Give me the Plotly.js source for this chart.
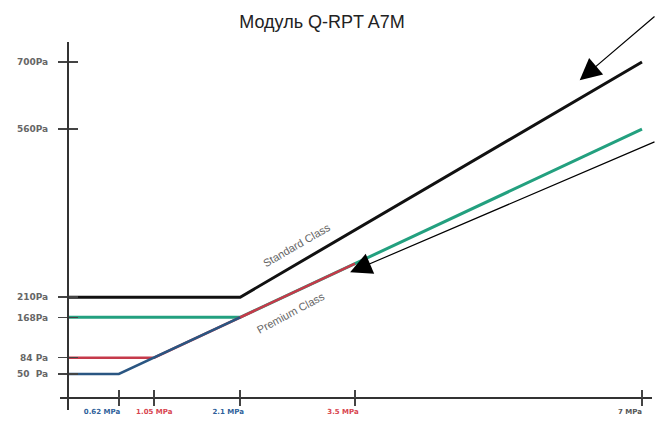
<!DOCTYPE html>
<html>
<head>
<meta charset="utf-8">
<script src="https://cdn.plot.ly/plotly-3.0.1.min.js"></script>
<style>html,body{margin:0;padding:0;background:#fff;}#chart{width:656px;height:429px;}</style>
</head>
<body>
<div id="chart"></div>
<script>
// Pressure (MPa) breakpoints and uncertainty (Pa) for each curve
const standardX = [0, 2.1, 7];
const standardY = [210, 210, 700];
const premiumX = [0, 2.1, 7];
const premiumY = [168, 168, 560];
const redX = [0, 1.05, 3.5];
const redY = [84, 84, 280];
const blueX = [0, 0.62, 2.1];
const blueY = [50, 50, 168];

const xTickVals = [0.62, 1.05, 2.1, 3.5, 7];
const xTickText = ['0.62 MPa', '1.05 MPa', '2.1 MPa', '3.5 MPa', '7 MPa'];
const xTickColors = ['#2f5f9a', '#d8454f', '#2f5f9a', '#d8454f', '#555'];
const yTickVals = [50, 84, 168, 210, 560, 700];
const yTickText = ['50  Pa', '84 Pa', '168Pa', '210Pa', '560Pa', '700Pa'];

const titleText = 'Модуль Q-RPT A7M';
const standardLabel = 'Standard Class';
const premiumLabel = 'Premium Class';

const xRange = [-0.0976, 7.122];
const yRange = [-25, 741.7];
const xPos = 0.0326, yPos = 0.0135;

const nb = n => '\u00a0'.repeat(n);
const xPadLead = [0, 10, 0, 0, 0];
const xPadTrail = [4, 0, 0, 0, 0];

const traces = [
  {x: premiumX, y: premiumY, mode: 'lines', line: {color: '#23a07f', width: 3}},
  {x: redX, y: redY, mode: 'lines', line: {color: '#c53a4a', width: 2.6}},
  {x: blueX, y: blueY, mode: 'lines', line: {color: '#2a5682', width: 2.6}},
  {x: standardX, y: standardY, mode: 'lines', line: {color: '#111', width: 3}},
  {x: [], y: [], xaxis: 'x2', yaxis: 'y2', mode: 'lines', hoverinfo: 'skip'}
];

const yTickFont = {family: 'DejaVu Sans', size: 9, color: '#666', weight: 'bold'};
const xTickFont = {family: 'DejaVu Sans', size: 7, color: '#555', weight: 'bold'};
const layout = {
  width: 656, height: 429,
  margin: {l: 60, r: 4, t: 42, b: 19},
  paper_bgcolor: '#fff', plot_bgcolor: '#fff',
  showlegend: false,
  hovermode: false,
  title: {text: titleText, font: {family: 'Liberation Sans', size: 18, color: '#222'},
          x: 0.4426, xref: 'paper', xanchor: 'center', y: 0.949, yref: 'container', yanchor: 'middle'},
  xaxis: {range: xRange, anchor: 'free', position: xPos, showgrid: false, zeroline: false,
          showline: true, linecolor: '#333', linewidth: 2,
          tickmode: 'array', tickvals: xTickVals, tickangle: 0,
          ticktext: xTickText.map((t, i) => nb(xPadLead[i]) + '<span style="color:' + xTickColors[i] + '">' + t + '</span>' + nb(xPadTrail[i])),
          ticks: 'outside', ticklen: 7, tickwidth: 1.5, tickcolor: '#444',
          ticklabelshift: -12, tickfont: xTickFont},
  yaxis: {range: yRange, anchor: 'free', position: yPos, showgrid: false, zeroline: false,
          showline: true, linecolor: '#333', linewidth: 2,
          tickmode: 'array', tickvals: yTickVals, ticktext: yTickText,
          ticks: 'outside', ticklen: 9, tickwidth: 1.5, tickcolor: '#444',
          ticklabelstandoff: 8, tickfont: yTickFont},
  xaxis2: {range: xRange, overlaying: 'x', anchor: 'free', position: xPos, side: 'bottom',
           showgrid: false, zeroline: false, showline: false, showticklabels: false,
           tickmode: 'array', tickvals: xTickVals, ticks: 'inside', ticklen: 8, tickwidth: 1.5, tickcolor: '#444'},
  yaxis2: {range: yRange, overlaying: 'y', anchor: 'free', position: yPos, side: 'left',
           showgrid: false, zeroline: false, showline: false, showticklabels: false,
           tickmode: 'array', tickvals: yTickVals, ticks: 'inside', ticklen: 9, tickwidth: 1.5, tickcolor: '#444'},
  annotations: [
    {x: 2.79, y: 318, xref: 'x', yref: 'y', text: standardLabel, showarrow: false, textangle: -30,
     font: {family: 'Liberation Sans', size: 11, color: '#666'}},
    {x: 2.71, y: 178, xref: 'x', yref: 'y', text: premiumLabel, showarrow: false, textangle: -28,
     font: {family: 'Liberation Sans', size: 11, color: '#666'}},
    {x: 6.24, y: 662, xref: 'x', yref: 'y', text: '', showarrow: true, arrowhead: 2, arrowsize: 3.6,
     arrowwidth: 1.2, arrowcolor: '#000', ax: 80, ay: -65, standoff: 0},
    {x: 3.44, y: 262, xref: 'x', yref: 'y', text: '', showarrow: true, arrowhead: 2, arrowsize: 3.6,
     arrowwidth: 1.2, arrowcolor: '#000', ax: 320, ay: -131, standoff: 0}
  ]
};

Plotly.newPlot('chart', traces, layout, {displayModeBar: false, staticPlot: true});
</script>
</body>
</html>
